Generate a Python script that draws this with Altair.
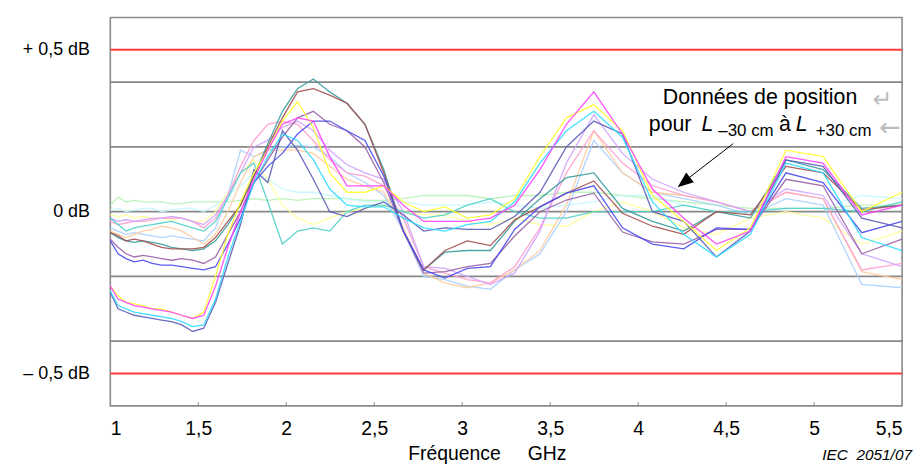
import altair as alt
import pandas as pd

# ---------------- data ----------------
freq = [1.000, 1.044, 1.089, 1.136, 1.186, 1.238, 1.291, 1.348, 1.406, 1.468, 1.531,
        1.598, 1.668, 1.740, 1.816, 1.895, 1.978, 2.064, 2.154, 2.247, 2.345,
        2.447, 2.554, 2.665, 2.781, 2.902, 3.029, 3.160, 3.298, 3.442, 3.592,
        3.748, 3.911, 4.081, 4.259, 4.445, 4.638, 4.840, 5.051, 5.271, 5.500]

s_yellow = [-0.23, -0.26, -0.28, -0.285, -0.29, -0.30, -0.30, -0.31, -0.32, -0.33, -0.31,
            -0.20, -0.07, 0.03, 0.12, 0.19, 0.28, 0.34, 0.26, 0.12, 0.06,
            0.06, 0.08, 0.03, 0.00, 0.015, -0.02, -0.01, 0.04, 0.17, 0.29,
            0.33, 0.25, 0.05, -0.03, -0.12, -0.05, 0.19, 0.17, 0.00, 0.06]
s_magenta = [-0.23, -0.27, -0.28, -0.29, -0.295, -0.30, -0.305, -0.31, -0.32, -0.33, -0.32,
             -0.23, -0.11, 0.0, 0.10, 0.19, 0.27, 0.29, 0.28, 0.17, 0.08,
             0.08, 0.08, 0.02, -0.03, -0.03, -0.03, -0.02, 0.02, 0.13, 0.27,
             0.37, 0.24, 0.07, -0.02, -0.10, -0.06, 0.17, 0.15, -0.01, 0.02]
s_cyan = [-0.245, -0.29, -0.30, -0.31, -0.315, -0.32, -0.325, -0.33, -0.34, -0.355, -0.35,
          -0.27, -0.14, -0.03, 0.09, 0.17, 0.24, 0.22, 0.16, 0.07, 0.02,
          0.015, 0.015, -0.02, -0.05, -0.06, -0.04, -0.03, 0.03, 0.15, 0.25,
          0.31, 0.23, 0.03, -0.07, -0.14, -0.07, 0.15, 0.12, -0.08, -0.12]
s_slate = [-0.25, -0.30, -0.31, -0.32, -0.325, -0.33, -0.335, -0.34, -0.35, -0.37, -0.36,
           -0.28, -0.16, -0.04, 0.13, 0.09, 0.25, 0.19, 0.10, 0.0, -0.015,
           0.01, 0.03, -0.01, -0.06, -0.05, -0.055, -0.055, -0.015, 0.06, 0.20,
           0.28, 0.24, 0.0, -0.03, -0.14, -0.06, 0.16, 0.14, -0.02, -0.05]
s_teal = [-0.065, -0.08, -0.09, -0.095, -0.09, -0.095, -0.10, -0.11, -0.115, -0.12, -0.115,
          -0.09, -0.04, 0.02, 0.11, 0.21, 0.31, 0.38, 0.41, 0.37, 0.335,
          0.27, 0.13, -0.06, -0.18, -0.125, -0.12, -0.12, -0.03, 0.04, 0.105,
          0.12, 0.01, -0.03, -0.06, 0.0, -0.02, 0.16, 0.13, 0.01, 0.02]
s_brown = [-0.065, -0.075, -0.09, -0.085, -0.09, -0.10, -0.11, -0.115, -0.115, -0.115, -0.11,
           -0.08, -0.03, 0.02, 0.11, 0.20, 0.29, 0.37, 0.38, 0.36, 0.335,
           0.27, 0.12, -0.06, -0.18, -0.12, -0.09, -0.105, -0.025, 0.015, 0.057,
           0.095, -0.005, -0.045, -0.07, 0.0, -0.01, 0.14, 0.12, 0.005, 0.02]
s_purple = [-0.085, -0.11, -0.13, -0.14, -0.135, -0.14, -0.145, -0.15, -0.145, -0.15, -0.16,
            -0.14, -0.07, 0.0, 0.09, 0.16, 0.23, 0.29, 0.31, 0.27, 0.25,
            0.20, 0.09, -0.06, -0.19, -0.185, -0.17, -0.16, -0.075, 0.0, 0.036,
            0.057, -0.063, -0.093, -0.10, -0.055, -0.055, 0.10, 0.08, -0.13, -0.085]
s_blue = [-0.09, -0.13, -0.145, -0.155, -0.15, -0.16, -0.165, -0.165, -0.17, -0.175, -0.18,
          -0.17, -0.10, -0.02, 0.09, 0.14, 0.18, 0.24, 0.28, 0.28, 0.25,
          0.22, 0.11, -0.06, -0.18, -0.205, -0.175, -0.17, -0.055, 0.015, 0.057,
          0.08, -0.05, -0.10, -0.115, -0.05, -0.055, 0.12, 0.09, -0.065, -0.03]
s_lightgreen = [0.02, 0.045, 0.03, 0.035, 0.03, 0.03, 0.03, 0.025, 0.025, 0.03, 0.03,
                0.03, 0.03, 0.035, 0.04, 0.035, 0.04, 0.035, 0.04, 0.04, 0.04,
                0.035, 0.035, 0.04, 0.05, 0.05, 0.05, 0.04, 0.05, 0.05, 0.06,
                0.06, 0.05, 0.04, 0.03, 0.02, 0.01, 0.01, 0.01, 0.02, 0.02]
s_lightcyan = [0.005, 0.01, 0.0, 0.005, 0.01, 0.01, 0.0, 0.005, 0.01, 0.01, 0.0,
               0.02, 0.05, 0.08, 0.12, 0.10, 0.07, 0.06, 0.06, 0.05, 0.04,
               0.03, 0.03, 0.03, 0.02, 0.02, 0.02, 0.03, 0.02, 0.01, 0.02,
               0.03, 0.05, 0.05, 0.02, 0.0, 0.0, 0.01, 0.01, 0.05, 0.04]
s_lightyellow = [-0.01, -0.015, -0.01, -0.02, -0.015, -0.02, -0.02, -0.025, -0.02, -0.03, -0.03,
                 0.0, 0.06, 0.12, 0.16, 0.10, 0.02, -0.02, -0.04, -0.02, 0.0,
                 0.01, 0.02, 0.0, -0.01, -0.01, -0.03, -0.04, -0.02, -0.04, -0.045,
                 0.0, 0.03, 0.0, -0.05, -0.07, -0.02, 0.0, -0.02, -0.10, -0.06]
s_turquoise = [-0.02, -0.04, -0.06, -0.05, -0.045, -0.04, -0.035, -0.03, -0.04, -0.05, -0.06,
               -0.03, 0.04, 0.12, 0.15, 0.03, -0.10, -0.06, -0.05, -0.06, 0.0,
               0.02, 0.02, 0.0, -0.02, -0.01, 0.02, 0.04, 0.0, -0.02, -0.02,
               0.0, 0.0, 0.0, 0.02, 0.0, 0.0, 0.01, 0.01, 0.0, 0.03]
s_lavender = [-0.02, -0.03, -0.025, -0.03, -0.025, -0.02, -0.02, -0.015, -0.02, -0.03, -0.04,
              -0.01, 0.05, 0.12, 0.20, 0.22, 0.26, 0.28, 0.25, 0.19, 0.145,
              0.12, 0.10, 0.0, -0.17, -0.175, -0.20, -0.225, -0.19, -0.06, 0.15,
              0.30, 0.18, 0.10, 0.06, 0.03, 0.0, 0.07, 0.05, -0.13, -0.17]
s_lightpink = [-0.03, -0.04, -0.035, -0.03, -0.03, -0.025, -0.02, -0.02, -0.02, -0.03, -0.05,
               -0.02, 0.05, 0.14, 0.22, 0.27, 0.28, 0.27, 0.22, 0.16, 0.12,
               0.11, 0.08, -0.02, -0.17, -0.19, -0.21, -0.22, -0.17, -0.05, 0.12,
               0.25, 0.15, 0.08, 0.05, 0.03, 0.0, 0.06, 0.04, -0.18, -0.16]
s_peach = [-0.06, -0.07, -0.08, -0.07, -0.06, -0.055, -0.045, -0.05, -0.06, -0.08, -0.10,
           -0.07, 0.0, 0.09, 0.17, 0.19, 0.19, 0.19, 0.18, 0.14, 0.10,
           0.08, 0.06, -0.05, -0.19, -0.22, -0.235, -0.22, -0.18, -0.12, 0.02,
           0.25, 0.12, 0.06, 0.05, 0.03, 0.0, 0.06, 0.04, -0.185, -0.21]
s_lightblue = [-0.05, -0.06, -0.07, -0.065, -0.07, -0.075, -0.08, -0.075, -0.08, -0.085, -0.09,
               -0.05, 0.05, 0.19, 0.17, 0.19, 0.20, 0.205, 0.20, 0.17, 0.12,
               0.09, 0.05, -0.06, -0.20, -0.21, -0.23, -0.24, -0.18, -0.13, 0.0,
               0.22, 0.12, 0.06, 0.04, 0.02, -0.01, 0.04, 0.02, -0.225, -0.235]

series = {
    "lightgreen": s_lightgreen, "lightcyan": s_lightcyan, "lightyellow": s_lightyellow,
    "lightblue": s_lightblue, "peach": s_peach, "lightpink": s_lightpink,
    "lavender": s_lavender, "turquoise": s_turquoise,
    "teal": s_teal, "brown": s_brown, "purple": s_purple, "blue": s_blue,
    "slate": s_slate, "cyan": s_cyan, "yellow": s_yellow, "magenta": s_magenta,
}
series_colors = {
    "lightgreen": "#b5f2b5", "lightcyan": "#c4f6ff", "lightyellow": "#ffff99",
    "lightblue": "#a8d0ff", "peach": "#ffcc9c", "lightpink": "#ff9fd0",
    "lavender": "#cfa2ff", "turquoise": "#50d0c8",
    "teal": "#3a9c9c", "brown": "#a44f4f", "purple": "#9a62a6", "blue": "#4a4af0",
    "slate": "#5c5cb8", "cyan": "#30dcff", "yellow": "#ffff30", "magenta": "#ff40ff",
}

grid_vals = [-0.4, -0.2, 0.0, 0.2, 0.4]
limit_vals = [-0.5, 0.5]
x_tick_vals = [1, 1.5, 2, 2.5, 3, 3.5, 4, 4.5, 5, 5.5]
y_label_vals = [-0.5, 0, 0.5]

# ---------------- build ----------------
rows = []
for name, vals in series.items():
    for f, v in zip(freq, vals):
        rows.append({"f": f, "v": v, "s": name})
df = pd.DataFrame(rows)
order = list(series.keys())

W, H = 797, 391
FONT = "Liberation Sans"
xs = alt.Scale(domain=[1, 5.5], nice=False, zero=False)
ys = alt.Scale(domain=[-0.6, 0.6], nice=False, zero=False)

X_AXIS = alt.Axis(values=x_tick_vals, grid=False, domain=False, ticks=False, tickSize=0,
                  labelExpr="replace(format(datum.value, '~g'), '.', ',')",
                  labelFontSize=19.5, labelPadding=14, labelFlush=True,
                  title="Fréquence\u00a0\u00a0\u00a0\u00a0\u00a0GHz", titleFontSize=19.5,
                  titleX=379, titleY=54, titleAlign="center", titleAnchor="start",
                  titleBaseline="alphabetic")
Y_AXIS = alt.Axis(values=y_label_vals, grid=False, domain=False, ticks=False, tickSize=0,
                  labelExpr="datum.value > 0 ? '+ 0,5 dB' : (datum.value < 0 ? '\u2013 0,5 dB' : '0 dB')",
                  labelFontSize=18, labelPadding=21, title=None)

grid = alt.Chart(pd.DataFrame({"v": grid_vals})).mark_rule(
    color="#888888", strokeWidth=1.7).encode(y=alt.Y("v:Q", scale=ys, axis=Y_AXIS))

limits = alt.Chart(pd.DataFrame({"v": limit_vals})).mark_rule(
    color="#ff3b3b", strokeWidth=2).encode(y=alt.Y("v:Q", scale=ys, axis=Y_AXIS))

ticks = alt.Chart(pd.DataFrame({"f": x_tick_vals[1:-1]})).mark_rule(
    color="#8a8a8a", strokeWidth=1).encode(
    x=alt.X("f:Q", scale=xs, axis=X_AXIS), y=alt.value(H - 4), y2=alt.value(H))

lines = alt.Chart(df).mark_line(strokeWidth=1.3, opacity=0.9).encode(
    x=alt.X("f:Q", scale=xs, axis=X_AXIS),
    y=alt.Y("v:Q", scale=ys, axis=Y_AXIS),
    color=alt.Color("s:N", scale=alt.Scale(domain=order, range=[series_colors[k] for k in order]),
                    legend=None),
    detail="s:N",
    order=alt.Order("f:Q"),
)

# annotation texts (pixel positions relative to plot area)
def txt(t, x, y, size, style="normal", align="left", color="black", font=FONT):
    return alt.Chart(pd.DataFrame({"t": [t]})).mark_text(
        font=font, fontSize=size, fontStyle=style, align=align, baseline="alphabetic", color=color
    ).encode(x=alt.value(x), y=alt.value(y), text="t:N")

ann = [
    txt("Données de position", 654, 87, 21.5, align="center"),
    txt("pour", 542, 114, 21.5),
    txt("L", 595, 114, 21.5, style="italic"),
    txt("\u201330 cm", 612, 119, 17),
    txt("à", 673, 114, 21.5),
    txt("L", 690, 114, 21.5, style="italic"),
    txt("+30 cm", 710, 119, 17),
    txt("\u21b5", 777, 90, 24, align="center", color="#bdbdbd", font="DejaVu Sans"),
    txt("\u2190", 785, 119, 26, align="center", color="#bdbdbd", font="DejaVu Sans"),
    txt("IEC\u00a0\u00a02051/07", 807, 445, 15.5, style="italic", align="right"),
]

arrow_line = alt.Chart(pd.DataFrame({"a": [0]})).mark_rule(color="black", strokeWidth=1).encode(
    x=alt.value(627), y=alt.value(127), x2=alt.value(583), y2=alt.value(161))
arrow_head = alt.Chart(pd.DataFrame({"a": [0]})).mark_point(
    shape="M-0.78,0.62L1.05,0.05L0.19,-1.05Z", filled=True, color="black", opacity=1,
    size=317).encode(x=alt.value(578), y=alt.value(165.5))

chart = alt.layer(grid, limits, ticks, lines, arrow_line, arrow_head, *ann).properties(
    width=W, height=H,
    autosize=alt.AutoSizeParams(type="none"),
    padding={"left": 103, "top": 8, "right": 12, "bottom": 60},
).configure_view(stroke="#8a8a8a", strokeWidth=1.6).configure_axis(
    labelFont=FONT, titleFont=FONT, labelColor="black", titleColor="black",
    titleFontWeight="normal")

chart.save("out.html", embed_options={"renderer": "svg", "actions": False})
